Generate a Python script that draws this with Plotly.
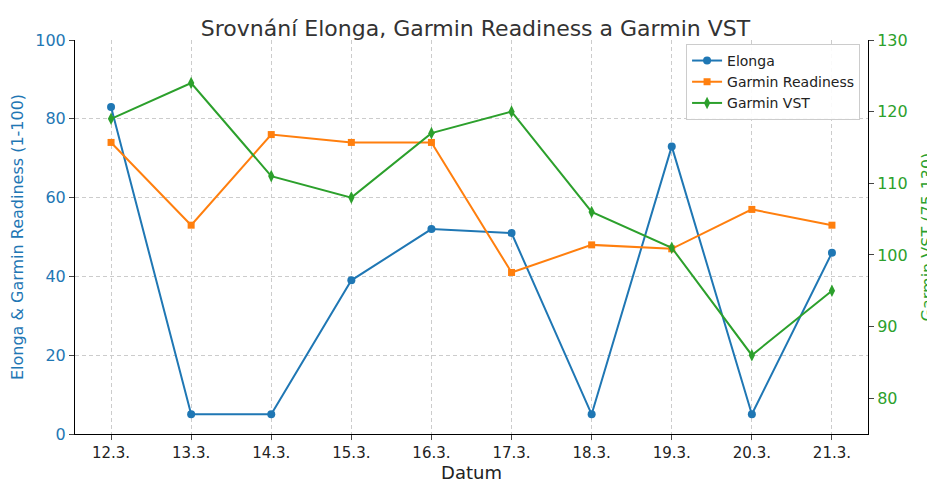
import plotly.graph_objects as go

dates = ["12.3.","13.3.","14.3.","15.3.","16.3.","17.3.","18.3.","19.3.","20.3.","21.3."]
elonga = [83,5,5,39,52,51,5,73,5,46]
readiness = [74,53,76,74,74,41,48,47,57,53]
vst = [119,124,111,108,117,120,106,101,86,95]

x = list(range(len(dates)))
fig = go.Figure()
fig.add_trace(go.Scatter(x=x, y=elonga, name="Elonga", mode="lines+markers",
    line=dict(color="#1f77b4", width=2), marker=dict(symbol="circle", size=8)))
fig.add_trace(go.Scatter(x=x, y=readiness, name="Garmin Readiness", mode="lines+markers",
    line=dict(color="#ff7f0e", width=2), marker=dict(symbol="square", size=7)))
fig.add_trace(go.Scatter(x=x, y=vst, name="Garmin VST", mode="lines+markers", yaxis="y2",
    line=dict(color="#2ca02c", width=2), marker=dict(symbol="diamond-tall", size=9)))

font = "DejaVu Sans"
fig.update_layout(
    width=935, height=492, margin=dict(l=67, r=75, t=32, b=66, autoexpand=False),
    paper_bgcolor="white", plot_bgcolor="white",
    font=dict(family=font, size=15, color="#222"),
    title=dict(text="Srovnání Elonga, Garmin Readiness a Garmin VST", x=0.5, xanchor="center",
               y=0.975, font=dict(size=22, color="#333")),
    xaxis=dict(range=[-0.45, 9.45], tickvals=x, ticktext=dates, showgrid=True,
               gridcolor="#cccccc", griddash="4px,3px", ticks="outside", showline=True,
               linecolor="black", title=dict(text="Datum", standoff=4), zeroline=False,
               automargin=False),
    yaxis=dict(range=[0, 100], dtick=20, showgrid=True, gridcolor="#cccccc", griddash="4px,3px",
               ticks="outside", showline=True, linecolor="black", zeroline=False, automargin=False,
               tickfont=dict(color="#1f77b4", size=16),
               title=dict(text="Elonga & Garmin Readiness (1-100)", font=dict(color="#1f77b4", size=16))),
    yaxis2=dict(range=[75, 130], dtick=10, overlaying="y", side="right", showgrid=False,
                ticks="outside", showline=True, linecolor="black", zeroline=False, automargin=False,
                tickfont=dict(color="#2ca02c", size=16),
                title=dict(text="Garmin VST (75-130)", font=dict(color="#2ca02c", size=16))),
    legend=dict(x=0.99, y=0.99, xanchor="right", yanchor="top", bgcolor="rgba(255,255,255,0.9)",
                bordercolor="#cccccc", borderwidth=1, font=dict(size=14)),
)
fig.write_html("out.html")
